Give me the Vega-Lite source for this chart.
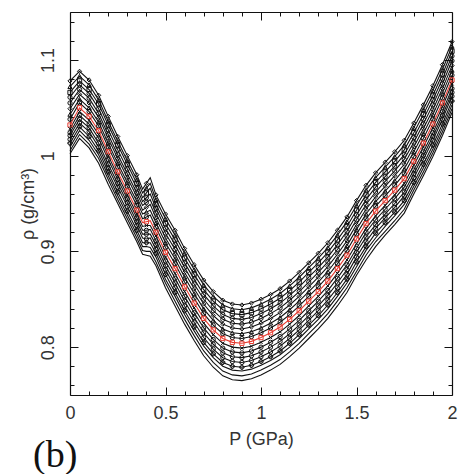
{
"$schema": "https://vega.github.io/schema/vega-lite/v6.json",
"width": 382,
"height": 383,
"autosize": {"type": "none"},
"padding": {"left": 70, "top": 12, "right": 22, "bottom": 79},
"background": "white",
"config": {
  "view": {"stroke": null},
  "axis": {"domainColor": "#111", "domainWidth": 1.2, "tickColor": "#111", "tickWidth": 1, "grid": false,
    "labelFont": "Liberation Sans", "labelFontSize": 18, "labelColor": "#333", "titleFont": "Liberation Sans", "titleFontSize": 18, "titleFontWeight": "normal", "titleColor": "#333",
    "labelOverlap": false, "labelFlush": false, "labelBound": false}
},
"title": {"text": "(b)", "orient": "bottom", "anchor": "start", "frame": "group", "font": "Liberation Serif", "fontSize": 38, "fontWeight": "normal", "color": "#111", "dx": -37, "dy": -15},
"data": {"values": [
{"P":0,"k":8,"r":1.078},{"P":0,"k":7,"r":1.072},{"P":0,"k":6,"r":1.066},{"P":0,"k":5,"r":1.061},{"P":0,"k":4,"r":1.055},{"P":0,"k":3,"r":1.049},{"P":0,"k":2,"r":1.043},{"P":0,"k":1,"r":1.038},{"P":0,"k":0,"r":1.032},{"P":0,"k":-1,"r":1.028},{"P":0,"k":-2,"r":1.024},{"P":0,"k":-3,"r":1.021},{"P":0,"k":-4,"r":1.017},{"P":0,"k":-5,"r":1.013},{"P":0,"k":-6,"r":1.009},{"P":0,"k":-7,"r":1.005},{"P":0,"k":-8,"r":1.002},
{"P":0.05,"k":8,"r":1.088},{"P":0.05,"k":7,"r":1.083},{"P":0.05,"k":6,"r":1.078},{"P":0.05,"k":5,"r":1.074},{"P":0.05,"k":4,"r":1.069},{"P":0.05,"k":3,"r":1.064},{"P":0.05,"k":2,"r":1.059},{"P":0.05,"k":1,"r":1.055},{"P":0.05,"k":0,"r":1.050},{"P":0.05,"k":-1,"r":1.046},{"P":0.05,"k":-2,"r":1.042},{"P":0.05,"k":-3,"r":1.038},{"P":0.05,"k":-4,"r":1.034},{"P":0.05,"k":-5,"r":1.030},{"P":0.05,"k":-6,"r":1.026},{"P":0.05,"k":-7,"r":1.022},{"P":0.05,"k":-8,"r":1.018},
{"P":0.1,"k":8,"r":1.079},{"P":0.1,"k":7,"r":1.074},{"P":0.1,"k":6,"r":1.069},{"P":0.1,"k":5,"r":1.065},{"P":0.1,"k":4,"r":1.060},{"P":0.1,"k":3,"r":1.055},{"P":0.1,"k":2,"r":1.050},{"P":0.1,"k":1,"r":1.046},{"P":0.1,"k":0,"r":1.041},{"P":0.1,"k":-1,"r":1.037},{"P":0.1,"k":-2,"r":1.033},{"P":0.1,"k":-3,"r":1.029},{"P":0.1,"k":-4,"r":1.025},{"P":0.1,"k":-5,"r":1.020},{"P":0.1,"k":-6,"r":1.016},{"P":0.1,"k":-7,"r":1.012},{"P":0.1,"k":-8,"r":1.008},
{"P":0.15,"k":8,"r":1.063},{"P":0.15,"k":7,"r":1.058},{"P":0.15,"k":6,"r":1.054},{"P":0.15,"k":5,"r":1.049},{"P":0.15,"k":4,"r":1.044},{"P":0.15,"k":3,"r":1.040},{"P":0.15,"k":2,"r":1.035},{"P":0.15,"k":1,"r":1.031},{"P":0.15,"k":0,"r":1.026},{"P":0.15,"k":-1,"r":1.022},{"P":0.15,"k":-2,"r":1.018},{"P":0.15,"k":-3,"r":1.013},{"P":0.15,"k":-4,"r":1.009},{"P":0.15,"k":-5,"r":1.005},{"P":0.15,"k":-6,"r":1.001},{"P":0.15,"k":-7,"r":0.997},{"P":0.15,"k":-8,"r":0.992},
{"P":0.2,"k":8,"r":1.041},{"P":0.2,"k":7,"r":1.036},{"P":0.2,"k":6,"r":1.032},{"P":0.2,"k":5,"r":1.027},{"P":0.2,"k":4,"r":1.022},{"P":0.2,"k":3,"r":1.018},{"P":0.2,"k":2,"r":1.013},{"P":0.2,"k":1,"r":1.009},{"P":0.2,"k":0,"r":1.004},{"P":0.2,"k":-1,"r":1.000},{"P":0.2,"k":-2,"r":0.996},{"P":0.2,"k":-3,"r":0.991},{"P":0.2,"k":-4,"r":0.987},{"P":0.2,"k":-5,"r":0.983},{"P":0.2,"k":-6,"r":0.979},{"P":0.2,"k":-7,"r":0.975},{"P":0.2,"k":-8,"r":0.970},
{"P":0.25,"k":8,"r":1.020},{"P":0.25,"k":7,"r":1.015},{"P":0.25,"k":6,"r":1.011},{"P":0.25,"k":5,"r":1.006},{"P":0.25,"k":4,"r":1.001},{"P":0.25,"k":3,"r":0.997},{"P":0.25,"k":2,"r":0.992},{"P":0.25,"k":1,"r":0.988},{"P":0.25,"k":0,"r":0.983},{"P":0.25,"k":-1,"r":0.979},{"P":0.25,"k":-2,"r":0.975},{"P":0.25,"k":-3,"r":0.971},{"P":0.25,"k":-4,"r":0.967},{"P":0.25,"k":-5,"r":0.962},{"P":0.25,"k":-6,"r":0.958},{"P":0.25,"k":-7,"r":0.954},{"P":0.25,"k":-8,"r":0.950},
{"P":0.3,"k":8,"r":1.000},{"P":0.3,"k":7,"r":0.995},{"P":0.3,"k":6,"r":0.991},{"P":0.3,"k":5,"r":0.986},{"P":0.3,"k":4,"r":0.981},{"P":0.3,"k":3,"r":0.977},{"P":0.3,"k":2,"r":0.972},{"P":0.3,"k":1,"r":0.968},{"P":0.3,"k":0,"r":0.963},{"P":0.3,"k":-1,"r":0.959},{"P":0.3,"k":-2,"r":0.955},{"P":0.3,"k":-3,"r":0.951},{"P":0.3,"k":-4,"r":0.947},{"P":0.3,"k":-5,"r":0.942},{"P":0.3,"k":-6,"r":0.938},{"P":0.3,"k":-7,"r":0.934},{"P":0.3,"k":-8,"r":0.930},
{"P":0.35,"k":8,"r":0.980},{"P":0.35,"k":7,"r":0.975},{"P":0.35,"k":6,"r":0.971},{"P":0.35,"k":5,"r":0.966},{"P":0.35,"k":4,"r":0.961},{"P":0.35,"k":3,"r":0.957},{"P":0.35,"k":2,"r":0.952},{"P":0.35,"k":1,"r":0.948},{"P":0.35,"k":0,"r":0.943},{"P":0.35,"k":-1,"r":0.939},{"P":0.35,"k":-2,"r":0.935},{"P":0.35,"k":-3,"r":0.931},{"P":0.35,"k":-4,"r":0.927},{"P":0.35,"k":-5,"r":0.922},{"P":0.35,"k":-6,"r":0.918},{"P":0.35,"k":-7,"r":0.914},{"P":0.35,"k":-8,"r":0.910},
{"P":0.38,"k":8,"r":0.965},{"P":0.38,"k":7,"r":0.961},{"P":0.38,"k":6,"r":0.956},{"P":0.38,"k":5,"r":0.952},{"P":0.38,"k":4,"r":0.948},{"P":0.38,"k":3,"r":0.943},{"P":0.38,"k":2,"r":0.939},{"P":0.38,"k":1,"r":0.934},{"P":0.38,"k":0,"r":0.930},{"P":0.38,"k":-1,"r":0.926},{"P":0.38,"k":-2,"r":0.922},{"P":0.38,"k":-3,"r":0.918},{"P":0.38,"k":-4,"r":0.914},{"P":0.38,"k":-5,"r":0.909},{"P":0.38,"k":-6,"r":0.905},{"P":0.38,"k":-7,"r":0.901},{"P":0.38,"k":-8,"r":0.897},
{"P":0.4,"k":8,"r":0.971},{"P":0.4,"k":7,"r":0.966},{"P":0.4,"k":6,"r":0.961},{"P":0.4,"k":5,"r":0.956},{"P":0.4,"k":4,"r":0.951},{"P":0.4,"k":3,"r":0.946},{"P":0.4,"k":2,"r":0.941},{"P":0.4,"k":1,"r":0.936},{"P":0.4,"k":0,"r":0.931},{"P":0.4,"k":-1,"r":0.927},{"P":0.4,"k":-2,"r":0.922},{"P":0.4,"k":-3,"r":0.918},{"P":0.4,"k":-4,"r":0.913},{"P":0.4,"k":-5,"r":0.909},{"P":0.4,"k":-6,"r":0.905},{"P":0.4,"k":-7,"r":0.900},{"P":0.4,"k":-8,"r":0.896},
{"P":0.42,"k":8,"r":0.977},{"P":0.42,"k":7,"r":0.971},{"P":0.42,"k":6,"r":0.966},{"P":0.42,"k":5,"r":0.960},{"P":0.42,"k":4,"r":0.954},{"P":0.42,"k":3,"r":0.949},{"P":0.42,"k":2,"r":0.943},{"P":0.42,"k":1,"r":0.938},{"P":0.42,"k":0,"r":0.932},{"P":0.42,"k":-1,"r":0.927},{"P":0.42,"k":-2,"r":0.923},{"P":0.42,"k":-3,"r":0.918},{"P":0.42,"k":-4,"r":0.914},{"P":0.42,"k":-5,"r":0.909},{"P":0.42,"k":-6,"r":0.904},{"P":0.42,"k":-7,"r":0.900},{"P":0.42,"k":-8,"r":0.895},
{"P":0.45,"k":8,"r":0.959},{"P":0.45,"k":7,"r":0.954},{"P":0.45,"k":6,"r":0.949},{"P":0.45,"k":5,"r":0.945},{"P":0.45,"k":4,"r":0.940},{"P":0.45,"k":3,"r":0.935},{"P":0.45,"k":2,"r":0.930},{"P":0.45,"k":1,"r":0.925},{"P":0.45,"k":0,"r":0.920},{"P":0.45,"k":-1,"r":0.916},{"P":0.45,"k":-2,"r":0.911},{"P":0.45,"k":-3,"r":0.907},{"P":0.45,"k":-4,"r":0.902},{"P":0.45,"k":-5,"r":0.898},{"P":0.45,"k":-6,"r":0.894},{"P":0.45,"k":-7,"r":0.889},{"P":0.45,"k":-8,"r":0.885},
{"P":0.5,"k":8,"r":0.939},{"P":0.5,"k":7,"r":0.934},{"P":0.5,"k":6,"r":0.929},{"P":0.5,"k":5,"r":0.924},{"P":0.5,"k":4,"r":0.919},{"P":0.5,"k":3,"r":0.914},{"P":0.5,"k":2,"r":0.909},{"P":0.5,"k":1,"r":0.904},{"P":0.5,"k":0,"r":0.899},{"P":0.5,"k":-1,"r":0.894},{"P":0.5,"k":-2,"r":0.890},{"P":0.5,"k":-3,"r":0.885},{"P":0.5,"k":-4,"r":0.881},{"P":0.5,"k":-5,"r":0.876},{"P":0.5,"k":-6,"r":0.871},{"P":0.5,"k":-7,"r":0.867},{"P":0.5,"k":-8,"r":0.862},
{"P":0.55,"k":8,"r":0.922},{"P":0.55,"k":7,"r":0.917},{"P":0.55,"k":6,"r":0.912},{"P":0.55,"k":5,"r":0.907},{"P":0.55,"k":4,"r":0.902},{"P":0.55,"k":3,"r":0.897},{"P":0.55,"k":2,"r":0.892},{"P":0.55,"k":1,"r":0.887},{"P":0.55,"k":0,"r":0.882},{"P":0.55,"k":-1,"r":0.877},{"P":0.55,"k":-2,"r":0.872},{"P":0.55,"k":-3,"r":0.867},{"P":0.55,"k":-4,"r":0.862},{"P":0.55,"k":-5,"r":0.857},{"P":0.55,"k":-6,"r":0.853},{"P":0.55,"k":-7,"r":0.848},{"P":0.55,"k":-8,"r":0.843},
{"P":0.6,"k":8,"r":0.903},{"P":0.6,"k":7,"r":0.898},{"P":0.6,"k":6,"r":0.893},{"P":0.6,"k":5,"r":0.888},{"P":0.6,"k":4,"r":0.883},{"P":0.6,"k":3,"r":0.878},{"P":0.6,"k":2,"r":0.873},{"P":0.6,"k":1,"r":0.868},{"P":0.6,"k":0,"r":0.863},{"P":0.6,"k":-1,"r":0.858},{"P":0.6,"k":-2,"r":0.853},{"P":0.6,"k":-3,"r":0.848},{"P":0.6,"k":-4,"r":0.843},{"P":0.6,"k":-5,"r":0.838},{"P":0.6,"k":-6,"r":0.834},{"P":0.6,"k":-7,"r":0.829},{"P":0.6,"k":-8,"r":0.824},
{"P":0.65,"k":8,"r":0.886},{"P":0.65,"k":7,"r":0.881},{"P":0.65,"k":6,"r":0.876},{"P":0.65,"k":5,"r":0.871},{"P":0.65,"k":4,"r":0.866},{"P":0.65,"k":3,"r":0.861},{"P":0.65,"k":2,"r":0.856},{"P":0.65,"k":1,"r":0.851},{"P":0.65,"k":0,"r":0.846},{"P":0.65,"k":-1,"r":0.841},{"P":0.65,"k":-2,"r":0.836},{"P":0.65,"k":-3,"r":0.831},{"P":0.65,"k":-4,"r":0.826},{"P":0.65,"k":-5,"r":0.821},{"P":0.65,"k":-6,"r":0.817},{"P":0.65,"k":-7,"r":0.812},{"P":0.65,"k":-8,"r":0.807},
{"P":0.7,"k":8,"r":0.870},{"P":0.7,"k":7,"r":0.865},{"P":0.7,"k":6,"r":0.860},{"P":0.7,"k":5,"r":0.855},{"P":0.7,"k":4,"r":0.850},{"P":0.7,"k":3,"r":0.845},{"P":0.7,"k":2,"r":0.840},{"P":0.7,"k":1,"r":0.835},{"P":0.7,"k":0,"r":0.830},{"P":0.7,"k":-1,"r":0.825},{"P":0.7,"k":-2,"r":0.820},{"P":0.7,"k":-3,"r":0.815},{"P":0.7,"k":-4,"r":0.810},{"P":0.7,"k":-5,"r":0.805},{"P":0.7,"k":-6,"r":0.801},{"P":0.7,"k":-7,"r":0.796},{"P":0.7,"k":-8,"r":0.791},
{"P":0.75,"k":8,"r":0.858},{"P":0.75,"k":7,"r":0.853},{"P":0.75,"k":6,"r":0.848},{"P":0.75,"k":5,"r":0.843},{"P":0.75,"k":4,"r":0.838},{"P":0.75,"k":3,"r":0.833},{"P":0.75,"k":2,"r":0.828},{"P":0.75,"k":1,"r":0.823},{"P":0.75,"k":0,"r":0.818},{"P":0.75,"k":-1,"r":0.813},{"P":0.75,"k":-2,"r":0.808},{"P":0.75,"k":-3,"r":0.803},{"P":0.75,"k":-4,"r":0.798},{"P":0.75,"k":-5,"r":0.793},{"P":0.75,"k":-6,"r":0.789},{"P":0.75,"k":-7,"r":0.784},{"P":0.75,"k":-8,"r":0.779},
{"P":0.8,"k":8,"r":0.849},{"P":0.8,"k":7,"r":0.844},{"P":0.8,"k":6,"r":0.839},{"P":0.8,"k":5,"r":0.834},{"P":0.8,"k":4,"r":0.829},{"P":0.8,"k":3,"r":0.824},{"P":0.8,"k":2,"r":0.819},{"P":0.8,"k":1,"r":0.814},{"P":0.8,"k":0,"r":0.809},{"P":0.8,"k":-1,"r":0.804},{"P":0.8,"k":-2,"r":0.799},{"P":0.8,"k":-3,"r":0.794},{"P":0.8,"k":-4,"r":0.789},{"P":0.8,"k":-5,"r":0.784},{"P":0.8,"k":-6,"r":0.780},{"P":0.8,"k":-7,"r":0.775},{"P":0.8,"k":-8,"r":0.770},
{"P":0.85,"k":8,"r":0.845},{"P":0.85,"k":7,"r":0.840},{"P":0.85,"k":6,"r":0.835},{"P":0.85,"k":5,"r":0.830},{"P":0.85,"k":4,"r":0.825},{"P":0.85,"k":3,"r":0.820},{"P":0.85,"k":2,"r":0.815},{"P":0.85,"k":1,"r":0.810},{"P":0.85,"k":0,"r":0.805},{"P":0.85,"k":-1,"r":0.800},{"P":0.85,"k":-2,"r":0.795},{"P":0.85,"k":-3,"r":0.790},{"P":0.85,"k":-4,"r":0.785},{"P":0.85,"k":-5,"r":0.780},{"P":0.85,"k":-6,"r":0.776},{"P":0.85,"k":-7,"r":0.771},{"P":0.85,"k":-8,"r":0.766},
{"P":0.9,"k":8,"r":0.844},{"P":0.9,"k":7,"r":0.839},{"P":0.9,"k":6,"r":0.834},{"P":0.9,"k":5,"r":0.829},{"P":0.9,"k":4,"r":0.824},{"P":0.9,"k":3,"r":0.819},{"P":0.9,"k":2,"r":0.814},{"P":0.9,"k":1,"r":0.809},{"P":0.9,"k":0,"r":0.804},{"P":0.9,"k":-1,"r":0.799},{"P":0.9,"k":-2,"r":0.794},{"P":0.9,"k":-3,"r":0.789},{"P":0.9,"k":-4,"r":0.784},{"P":0.9,"k":-5,"r":0.779},{"P":0.9,"k":-6,"r":0.775},{"P":0.9,"k":-7,"r":0.770},{"P":0.9,"k":-8,"r":0.765},
{"P":0.95,"k":8,"r":0.846},{"P":0.95,"k":7,"r":0.841},{"P":0.95,"k":6,"r":0.836},{"P":0.95,"k":5,"r":0.831},{"P":0.95,"k":4,"r":0.826},{"P":0.95,"k":3,"r":0.821},{"P":0.95,"k":2,"r":0.816},{"P":0.95,"k":1,"r":0.811},{"P":0.95,"k":0,"r":0.806},{"P":0.95,"k":-1,"r":0.801},{"P":0.95,"k":-2,"r":0.796},{"P":0.95,"k":-3,"r":0.791},{"P":0.95,"k":-4,"r":0.786},{"P":0.95,"k":-5,"r":0.781},{"P":0.95,"k":-6,"r":0.777},{"P":0.95,"k":-7,"r":0.772},{"P":0.95,"k":-8,"r":0.767},
{"P":1,"k":8,"r":0.850},{"P":1,"k":7,"r":0.845},{"P":1,"k":6,"r":0.840},{"P":1,"k":5,"r":0.835},{"P":1,"k":4,"r":0.830},{"P":1,"k":3,"r":0.825},{"P":1,"k":2,"r":0.820},{"P":1,"k":1,"r":0.815},{"P":1,"k":0,"r":0.810},{"P":1,"k":-1,"r":0.805},{"P":1,"k":-2,"r":0.800},{"P":1,"k":-3,"r":0.795},{"P":1,"k":-4,"r":0.790},{"P":1,"k":-5,"r":0.785},{"P":1,"k":-6,"r":0.781},{"P":1,"k":-7,"r":0.776},{"P":1,"k":-8,"r":0.771},
{"P":1.05,"k":8,"r":0.855},{"P":1.05,"k":7,"r":0.850},{"P":1.05,"k":6,"r":0.845},{"P":1.05,"k":5,"r":0.840},{"P":1.05,"k":4,"r":0.835},{"P":1.05,"k":3,"r":0.830},{"P":1.05,"k":2,"r":0.825},{"P":1.05,"k":1,"r":0.820},{"P":1.05,"k":0,"r":0.815},{"P":1.05,"k":-1,"r":0.810},{"P":1.05,"k":-2,"r":0.805},{"P":1.05,"k":-3,"r":0.800},{"P":1.05,"k":-4,"r":0.795},{"P":1.05,"k":-5,"r":0.790},{"P":1.05,"k":-6,"r":0.786},{"P":1.05,"k":-7,"r":0.781},{"P":1.05,"k":-8,"r":0.776},
{"P":1.1,"k":8,"r":0.861},{"P":1.1,"k":7,"r":0.856},{"P":1.1,"k":6,"r":0.851},{"P":1.1,"k":5,"r":0.846},{"P":1.1,"k":4,"r":0.841},{"P":1.1,"k":3,"r":0.836},{"P":1.1,"k":2,"r":0.831},{"P":1.1,"k":1,"r":0.826},{"P":1.1,"k":0,"r":0.821},{"P":1.1,"k":-1,"r":0.816},{"P":1.1,"k":-2,"r":0.811},{"P":1.1,"k":-3,"r":0.806},{"P":1.1,"k":-4,"r":0.801},{"P":1.1,"k":-5,"r":0.796},{"P":1.1,"k":-6,"r":0.792},{"P":1.1,"k":-7,"r":0.787},{"P":1.1,"k":-8,"r":0.782},
{"P":1.15,"k":8,"r":0.869},{"P":1.15,"k":7,"r":0.864},{"P":1.15,"k":6,"r":0.859},{"P":1.15,"k":5,"r":0.854},{"P":1.15,"k":4,"r":0.849},{"P":1.15,"k":3,"r":0.844},{"P":1.15,"k":2,"r":0.839},{"P":1.15,"k":1,"r":0.834},{"P":1.15,"k":0,"r":0.829},{"P":1.15,"k":-1,"r":0.824},{"P":1.15,"k":-2,"r":0.819},{"P":1.15,"k":-3,"r":0.814},{"P":1.15,"k":-4,"r":0.809},{"P":1.15,"k":-5,"r":0.804},{"P":1.15,"k":-6,"r":0.800},{"P":1.15,"k":-7,"r":0.795},{"P":1.15,"k":-8,"r":0.790},
{"P":1.2,"k":8,"r":0.878},{"P":1.2,"k":7,"r":0.873},{"P":1.2,"k":6,"r":0.868},{"P":1.2,"k":5,"r":0.863},{"P":1.2,"k":4,"r":0.858},{"P":1.2,"k":3,"r":0.853},{"P":1.2,"k":2,"r":0.848},{"P":1.2,"k":1,"r":0.843},{"P":1.2,"k":0,"r":0.838},{"P":1.2,"k":-1,"r":0.833},{"P":1.2,"k":-2,"r":0.828},{"P":1.2,"k":-3,"r":0.823},{"P":1.2,"k":-4,"r":0.818},{"P":1.2,"k":-5,"r":0.813},{"P":1.2,"k":-6,"r":0.809},{"P":1.2,"k":-7,"r":0.804},{"P":1.2,"k":-8,"r":0.799},
{"P":1.25,"k":8,"r":0.888},{"P":1.25,"k":7,"r":0.883},{"P":1.25,"k":6,"r":0.878},{"P":1.25,"k":5,"r":0.873},{"P":1.25,"k":4,"r":0.868},{"P":1.25,"k":3,"r":0.863},{"P":1.25,"k":2,"r":0.858},{"P":1.25,"k":1,"r":0.853},{"P":1.25,"k":0,"r":0.848},{"P":1.25,"k":-1,"r":0.843},{"P":1.25,"k":-2,"r":0.838},{"P":1.25,"k":-3,"r":0.833},{"P":1.25,"k":-4,"r":0.828},{"P":1.25,"k":-5,"r":0.823},{"P":1.25,"k":-6,"r":0.819},{"P":1.25,"k":-7,"r":0.814},{"P":1.25,"k":-8,"r":0.809},
{"P":1.3,"k":8,"r":0.898},{"P":1.3,"k":7,"r":0.893},{"P":1.3,"k":6,"r":0.888},{"P":1.3,"k":5,"r":0.883},{"P":1.3,"k":4,"r":0.878},{"P":1.3,"k":3,"r":0.873},{"P":1.3,"k":2,"r":0.868},{"P":1.3,"k":1,"r":0.863},{"P":1.3,"k":0,"r":0.858},{"P":1.3,"k":-1,"r":0.853},{"P":1.3,"k":-2,"r":0.848},{"P":1.3,"k":-3,"r":0.843},{"P":1.3,"k":-4,"r":0.838},{"P":1.3,"k":-5,"r":0.833},{"P":1.3,"k":-6,"r":0.829},{"P":1.3,"k":-7,"r":0.824},{"P":1.3,"k":-8,"r":0.819},
{"P":1.35,"k":8,"r":0.909},{"P":1.35,"k":7,"r":0.904},{"P":1.35,"k":6,"r":0.899},{"P":1.35,"k":5,"r":0.894},{"P":1.35,"k":4,"r":0.889},{"P":1.35,"k":3,"r":0.884},{"P":1.35,"k":2,"r":0.879},{"P":1.35,"k":1,"r":0.874},{"P":1.35,"k":0,"r":0.869},{"P":1.35,"k":-1,"r":0.864},{"P":1.35,"k":-2,"r":0.859},{"P":1.35,"k":-3,"r":0.854},{"P":1.35,"k":-4,"r":0.849},{"P":1.35,"k":-5,"r":0.844},{"P":1.35,"k":-6,"r":0.840},{"P":1.35,"k":-7,"r":0.835},{"P":1.35,"k":-8,"r":0.830},
{"P":1.4,"k":8,"r":0.922},{"P":1.4,"k":7,"r":0.917},{"P":1.4,"k":6,"r":0.912},{"P":1.4,"k":5,"r":0.907},{"P":1.4,"k":4,"r":0.902},{"P":1.4,"k":3,"r":0.897},{"P":1.4,"k":2,"r":0.892},{"P":1.4,"k":1,"r":0.887},{"P":1.4,"k":0,"r":0.882},{"P":1.4,"k":-1,"r":0.877},{"P":1.4,"k":-2,"r":0.872},{"P":1.4,"k":-3,"r":0.867},{"P":1.4,"k":-4,"r":0.862},{"P":1.4,"k":-5,"r":0.857},{"P":1.4,"k":-6,"r":0.853},{"P":1.4,"k":-7,"r":0.848},{"P":1.4,"k":-8,"r":0.843},
{"P":1.45,"k":8,"r":0.936},{"P":1.45,"k":7,"r":0.931},{"P":1.45,"k":6,"r":0.926},{"P":1.45,"k":5,"r":0.921},{"P":1.45,"k":4,"r":0.916},{"P":1.45,"k":3,"r":0.911},{"P":1.45,"k":2,"r":0.906},{"P":1.45,"k":1,"r":0.901},{"P":1.45,"k":0,"r":0.896},{"P":1.45,"k":-1,"r":0.891},{"P":1.45,"k":-2,"r":0.886},{"P":1.45,"k":-3,"r":0.881},{"P":1.45,"k":-4,"r":0.876},{"P":1.45,"k":-5,"r":0.871},{"P":1.45,"k":-6,"r":0.867},{"P":1.45,"k":-7,"r":0.862},{"P":1.45,"k":-8,"r":0.857},
{"P":1.5,"k":8,"r":0.953},{"P":1.5,"k":7,"r":0.948},{"P":1.5,"k":6,"r":0.943},{"P":1.5,"k":5,"r":0.938},{"P":1.5,"k":4,"r":0.933},{"P":1.5,"k":3,"r":0.928},{"P":1.5,"k":2,"r":0.923},{"P":1.5,"k":1,"r":0.918},{"P":1.5,"k":0,"r":0.913},{"P":1.5,"k":-1,"r":0.908},{"P":1.5,"k":-2,"r":0.903},{"P":1.5,"k":-3,"r":0.899},{"P":1.5,"k":-4,"r":0.894},{"P":1.5,"k":-5,"r":0.889},{"P":1.5,"k":-6,"r":0.884},{"P":1.5,"k":-7,"r":0.879},{"P":1.5,"k":-8,"r":0.875},
{"P":1.55,"k":8,"r":0.969},{"P":1.55,"k":7,"r":0.964},{"P":1.55,"k":6,"r":0.959},{"P":1.55,"k":5,"r":0.954},{"P":1.55,"k":4,"r":0.949},{"P":1.55,"k":3,"r":0.944},{"P":1.55,"k":2,"r":0.939},{"P":1.55,"k":1,"r":0.934},{"P":1.55,"k":0,"r":0.929},{"P":1.55,"k":-1,"r":0.924},{"P":1.55,"k":-2,"r":0.920},{"P":1.55,"k":-3,"r":0.915},{"P":1.55,"k":-4,"r":0.910},{"P":1.55,"k":-5,"r":0.905},{"P":1.55,"k":-6,"r":0.901},{"P":1.55,"k":-7,"r":0.896},{"P":1.55,"k":-8,"r":0.891},
{"P":1.6,"k":8,"r":0.982},{"P":1.6,"k":7,"r":0.977},{"P":1.6,"k":6,"r":0.972},{"P":1.6,"k":5,"r":0.967},{"P":1.6,"k":4,"r":0.962},{"P":1.6,"k":3,"r":0.957},{"P":1.6,"k":2,"r":0.952},{"P":1.6,"k":1,"r":0.947},{"P":1.6,"k":0,"r":0.942},{"P":1.6,"k":-1,"r":0.937},{"P":1.6,"k":-2,"r":0.933},{"P":1.6,"k":-3,"r":0.928},{"P":1.6,"k":-4,"r":0.924},{"P":1.6,"k":-5,"r":0.919},{"P":1.6,"k":-6,"r":0.914},{"P":1.6,"k":-7,"r":0.910},{"P":1.6,"k":-8,"r":0.905},
{"P":1.65,"k":8,"r":0.993},{"P":1.65,"k":7,"r":0.988},{"P":1.65,"k":6,"r":0.983},{"P":1.65,"k":5,"r":0.978},{"P":1.65,"k":4,"r":0.973},{"P":1.65,"k":3,"r":0.968},{"P":1.65,"k":2,"r":0.963},{"P":1.65,"k":1,"r":0.958},{"P":1.65,"k":0,"r":0.953},{"P":1.65,"k":-1,"r":0.948},{"P":1.65,"k":-2,"r":0.944},{"P":1.65,"k":-3,"r":0.939},{"P":1.65,"k":-4,"r":0.935},{"P":1.65,"k":-5,"r":0.930},{"P":1.65,"k":-6,"r":0.926},{"P":1.65,"k":-7,"r":0.921},{"P":1.65,"k":-8,"r":0.917},
{"P":1.7,"k":8,"r":1.004},{"P":1.7,"k":7,"r":0.999},{"P":1.7,"k":6,"r":0.994},{"P":1.7,"k":5,"r":0.989},{"P":1.7,"k":4,"r":0.984},{"P":1.7,"k":3,"r":0.979},{"P":1.7,"k":2,"r":0.974},{"P":1.7,"k":1,"r":0.969},{"P":1.7,"k":0,"r":0.964},{"P":1.7,"k":-1,"r":0.959},{"P":1.7,"k":-2,"r":0.955},{"P":1.7,"k":-3,"r":0.950},{"P":1.7,"k":-4,"r":0.946},{"P":1.7,"k":-5,"r":0.941},{"P":1.7,"k":-6,"r":0.937},{"P":1.7,"k":-7,"r":0.932},{"P":1.7,"k":-8,"r":0.928},
{"P":1.75,"k":8,"r":1.016},{"P":1.75,"k":7,"r":1.011},{"P":1.75,"k":6,"r":1.006},{"P":1.75,"k":5,"r":1.001},{"P":1.75,"k":4,"r":0.996},{"P":1.75,"k":3,"r":0.991},{"P":1.75,"k":2,"r":0.986},{"P":1.75,"k":1,"r":0.981},{"P":1.75,"k":0,"r":0.976},{"P":1.75,"k":-1,"r":0.971},{"P":1.75,"k":-2,"r":0.967},{"P":1.75,"k":-3,"r":0.962},{"P":1.75,"k":-4,"r":0.958},{"P":1.75,"k":-5,"r":0.953},{"P":1.75,"k":-6,"r":0.949},{"P":1.75,"k":-7,"r":0.944},{"P":1.75,"k":-8,"r":0.940},
{"P":1.8,"k":8,"r":1.034},{"P":1.8,"k":7,"r":1.029},{"P":1.8,"k":6,"r":1.024},{"P":1.8,"k":5,"r":1.019},{"P":1.8,"k":4,"r":1.014},{"P":1.8,"k":3,"r":1.009},{"P":1.8,"k":2,"r":1.004},{"P":1.8,"k":1,"r":0.999},{"P":1.8,"k":0,"r":0.994},{"P":1.8,"k":-1,"r":0.990},{"P":1.8,"k":-2,"r":0.985},{"P":1.8,"k":-3,"r":0.981},{"P":1.8,"k":-4,"r":0.977},{"P":1.8,"k":-5,"r":0.972},{"P":1.8,"k":-6,"r":0.968},{"P":1.8,"k":-7,"r":0.964},{"P":1.8,"k":-8,"r":0.960},
{"P":1.85,"k":8,"r":1.053},{"P":1.85,"k":7,"r":1.048},{"P":1.85,"k":6,"r":1.043},{"P":1.85,"k":5,"r":1.038},{"P":1.85,"k":4,"r":1.033},{"P":1.85,"k":3,"r":1.028},{"P":1.85,"k":2,"r":1.023},{"P":1.85,"k":1,"r":1.018},{"P":1.85,"k":0,"r":1.013},{"P":1.85,"k":-1,"r":1.009},{"P":1.85,"k":-2,"r":1.004},{"P":1.85,"k":-3,"r":1.000},{"P":1.85,"k":-4,"r":0.996},{"P":1.85,"k":-5,"r":0.991},{"P":1.85,"k":-6,"r":0.987},{"P":1.85,"k":-7,"r":0.983},{"P":1.85,"k":-8,"r":0.979},
{"P":1.9,"k":8,"r":1.073},{"P":1.9,"k":7,"r":1.068},{"P":1.9,"k":6,"r":1.063},{"P":1.9,"k":5,"r":1.058},{"P":1.9,"k":4,"r":1.053},{"P":1.9,"k":3,"r":1.048},{"P":1.9,"k":2,"r":1.043},{"P":1.9,"k":1,"r":1.038},{"P":1.9,"k":0,"r":1.033},{"P":1.9,"k":-1,"r":1.029},{"P":1.9,"k":-2,"r":1.024},{"P":1.9,"k":-3,"r":1.020},{"P":1.9,"k":-4,"r":1.016},{"P":1.9,"k":-5,"r":1.011},{"P":1.9,"k":-6,"r":1.007},{"P":1.9,"k":-7,"r":1.003},{"P":1.9,"k":-8,"r":0.999},
{"P":1.95,"k":8,"r":1.095},{"P":1.95,"k":7,"r":1.090},{"P":1.95,"k":6,"r":1.085},{"P":1.95,"k":5,"r":1.080},{"P":1.95,"k":4,"r":1.075},{"P":1.95,"k":3,"r":1.070},{"P":1.95,"k":2,"r":1.065},{"P":1.95,"k":1,"r":1.060},{"P":1.95,"k":0,"r":1.055},{"P":1.95,"k":-1,"r":1.051},{"P":1.95,"k":-2,"r":1.046},{"P":1.95,"k":-3,"r":1.042},{"P":1.95,"k":-4,"r":1.038},{"P":1.95,"k":-5,"r":1.033},{"P":1.95,"k":-6,"r":1.029},{"P":1.95,"k":-7,"r":1.025},{"P":1.95,"k":-8,"r":1.021},
{"P":2,"k":8,"r":1.119},{"P":2,"k":7,"r":1.114},{"P":2,"k":6,"r":1.109},{"P":2,"k":5,"r":1.104},{"P":2,"k":4,"r":1.099},{"P":2,"k":3,"r":1.094},{"P":2,"k":2,"r":1.089},{"P":2,"k":1,"r":1.084},{"P":2,"k":0,"r":1.079},{"P":2,"k":-1,"r":1.075},{"P":2,"k":-2,"r":1.070},{"P":2,"k":-3,"r":1.066},{"P":2,"k":-4,"r":1.062},{"P":2,"k":-5,"r":1.057},{"P":2,"k":-6,"r":1.053},{"P":2,"k":-7,"r":1.049},{"P":2,"k":-8,"r":1.045}
]},
"layer": [
  {
    "mark": {"type": "line", "strokeWidth": 1.1},
    "encoding": {
      "x": {"field": "P", "type": "quantitative", "scale": {"domain": [0, 2], "nice": false},
        "axis": {"orient": "bottom", "title": "P (GPa)", "values": [0,0.1,0.2,0.3,0.4,0.5,0.6,0.7,0.8,0.9,1,1.1,1.2,1.3,1.4,1.5,1.6,1.7,1.8,1.9,2], "format": "~g",
          "labelExpr": "abs(datum.value*2-round(datum.value*2))<0.001 ? datum.label : ''",
          "tickSize": {"condition": {"test": "abs(datum.value*2-round(datum.value*2))<0.001", "value": -8}, "value": -4},
          "labelPadding": 17, "titlePadding": 4}},
      "y": {"field": "r", "type": "quantitative", "scale": {"domain": [0.75, 1.15], "nice": false, "zero": false},
        "axis": {"orient": "left", "title": "ρ (g/cm³)", "values": [0.76,0.78,0.8,0.82,0.84,0.86,0.88,0.9,0.92,0.94,0.96,0.98,1,1.02,1.04,1.06,1.08,1.1,1.12,1.14], "format": "~g",
          "labelExpr": "abs(datum.value*10-round(datum.value*10))<0.001 ? datum.label : ''",
          "tickSize": {"condition": {"test": "abs(datum.value*10-round(datum.value*10))<0.001", "value": -8}, "value": -4},
          "labelAngle": -90, "labelAlign": "center", "labelBaseline": "bottom", "labelPadding": 21, "titlePadding": -2}},
      "color": {"field": "k", "type": "nominal", "legend": null,
        "scale": {"domain": [8,7,6,5,4,3,2,1,0,-1,-2,-3,-4,-5,-6,-7,-8],
          "range": ["#111","#111","#111","#111","#111","#111","#111","#111","#e53b30","#111","#111","#111","#111","#111","#111","#111","#111"]}}
    }
  },
  {
    "transform": [{"filter": "datum.k > -6 && datum.P != 0.38 && datum.P != 0.42"}],
    "mark": {"type": "point", "filled": false, "size": 18, "strokeWidth": 1, "opacity": 1},
    "encoding": {
      "x": {"field": "P", "type": "quantitative",
        "axis": {"orient": "top", "title": null, "labels": false, "values": [0,0.1,0.2,0.3,0.4,0.5,0.6,0.7,0.8,0.9,1,1.1,1.2,1.3,1.4,1.5,1.6,1.7,1.8,1.9,2],
          "tickSize": {"condition": {"test": "abs(datum.value*2-round(datum.value*2))<0.001", "value": -8}, "value": -4}}},
      "y": {"field": "r", "type": "quantitative",
        "axis": {"orient": "right", "title": null, "labels": false, "values": [0.76,0.78,0.8,0.82,0.84,0.86,0.88,0.9,0.92,0.94,0.96,0.98,1,1.02,1.04,1.06,1.08,1.1,1.12,1.14],
          "tickSize": {"condition": {"test": "abs(datum.value*10-round(datum.value*10))<0.001", "value": -8}, "value": -4}}},
      "color": {"field": "k", "type": "nominal", "legend": null},
      "shape": {"field": "k", "type": "nominal", "legend": null,
        "scale": {"domain": [8,7,6,5,4,3,2,1,0,-1,-2,-3,-4,-5],
          "range": ["diamond","triangle-up","square","circle","circle","diamond","triangle-up","circle","square","M-0.8,-0.8L0.8,0.8M-0.8,0.8L0.8,-0.8","circle","circle","circle","cross"]}}
    }
  }
],
"resolve": {"axis": {"x": "independent", "y": "independent"}}
}
